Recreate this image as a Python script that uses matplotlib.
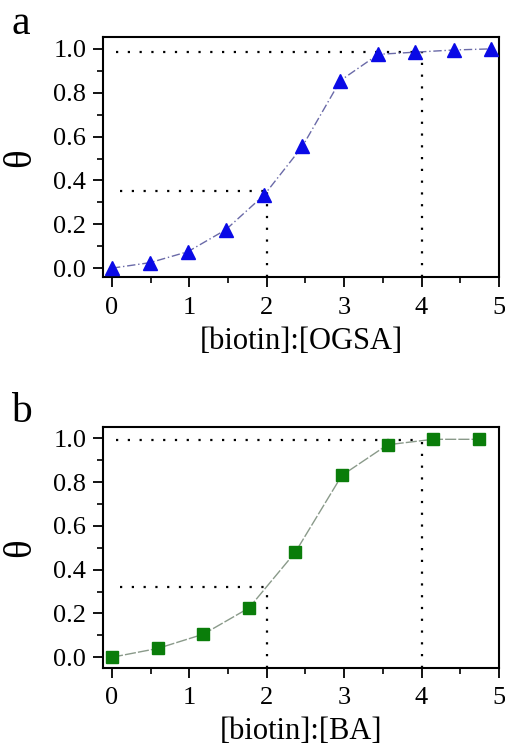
import numpy as np
import matplotlib
matplotlib.use('Agg')
import matplotlib.pyplot as plt
from matplotlib.ticker import MultipleLocator

plt.rcParams['font.family'] = ['Liberation Serif', 'DejaVu Serif']

# panel a: OGSA
x_a = [0, 0.49, 0.98, 1.47, 1.97, 2.46, 2.95, 3.44, 3.92, 4.42, 4.9]
theta_a = [0.0, 0.025, 0.075, 0.175, 0.335, 0.555, 0.855, 0.975, 0.985, 0.995, 1.0]
guia_a = [0.35, 0.985]   # niveles de las guias punteadas

# panel b: BA
x_b = [0, 0.59, 1.18, 1.77, 2.37, 2.97, 3.56, 4.15, 4.74]
theta_b = [0.0, 0.04, 0.105, 0.225, 0.48, 0.83, 0.97, 0.995, 0.995]
guia_b = [0.32, 0.99]

xticks = [0, 1, 2, 3, 4, 5]
yticks = [0.0, 0.2, 0.4, 0.6, 0.8, 1.0]

fig = plt.figure(figsize=(5.05, 7.45), dpi=100)
ax_a = fig.add_axes([0.204, 0.628, 0.784, 0.322])
ax_b = fig.add_axes([0.204, 0.104, 0.784, 0.3225])


def formato(ax, ylim, xlabel):
    ax.set_xlim(-0.116, 5.0)
    ax.set_ylim(*ylim)
    ax.set_xticks(xticks)
    ax.set_yticks(yticks)
    ax.set_yticklabels(['%.1f' % v for v in yticks])
    ax.xaxis.set_minor_locator(MultipleLocator(0.5))
    ax.yaxis.set_minor_locator(MultipleLocator(0.1))
    ax.tick_params(which='major', direction='out', length=7, width=1.3, labelsize=19,
                   top=False, right=False)
    ax.tick_params(axis='y', which='major', pad=5)
    ax.tick_params(axis='x', which='major', pad=7)
    ax.tick_params(which='minor', direction='out', length=4, width=1.2, top=False, right=False)
    for s in ax.spines.values():
        s.set_linewidth(1.5)
    ax.set_xlabel(xlabel, fontsize=22, labelpad=6)
    ax.set_ylabel('θ', fontsize=28, labelpad=10)


def guias(ax, niveles):
    ymin = ax.get_ylim()[0]
    kw = dict(color='k', lw=1.6, linestyle=(0, (1, 4.3)))
    ax.plot([0.1, 2], [niveles[0], niveles[0]], **kw)
    ax.plot([2, 2], [ymin, niveles[0]], **kw)
    ax.plot([0.05, 4], [niveles[1], niveles[1]], **kw)
    ax.plot([4, 4], [ymin, niveles[1]], **kw)


formato(ax_a, (-0.041, 1.053), '[biotin]:[OGSA]')
guias(ax_a, guia_a)
ax_a.plot(x_a, theta_a, color='#6a6aa8', lw=1.0, linestyle=(0, (6, 2, 1, 2)), zorder=3)
ax_a.plot(x_a, theta_a, linestyle='none', marker='^', ms=10, color='#0a0ae6', zorder=4,
          clip_on=False)

formato(ax_b, (-0.047, 1.05), '[biotin]:[BA]')
guias(ax_b, guia_b)
ax_b.plot(x_b, theta_b, color='#8a9a8a', lw=1.0, linestyle=(0, (8, 1.5)), zorder=3)
ax_b.plot(x_b, theta_b, linestyle='none', marker='s', ms=8, color='#0a7d0a', zorder=4,
          clip_on=False)

fig.text(0.022, 0.955, 'a', fontsize=30)
fig.text(0.022, 0.434, 'b', fontsize=30)

fig.savefig('out.png', dpi=100)
